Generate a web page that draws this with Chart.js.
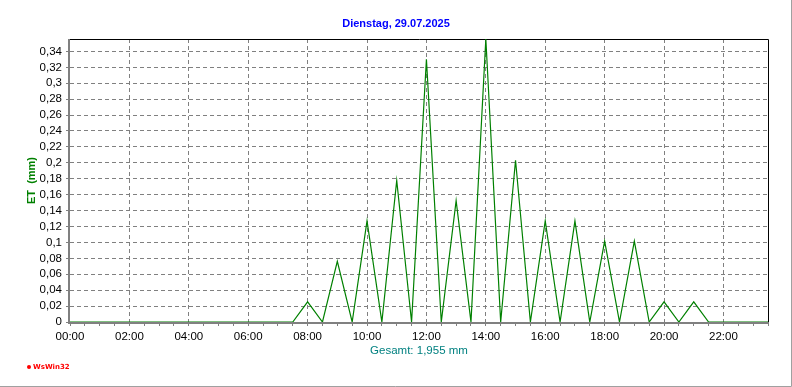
<!DOCTYPE html>
<html>
<head>
<meta charset="utf-8">
<script src="https://cdn.jsdelivr.net/npm/chart.js@4"></script>
<style>
  body { margin: 0; background: #fff; }
  #wrap { width: 792px; height: 387px; position: relative; }
</style>
</head>
<body>
<div id="wrap"><canvas id="etChart"></canvas></div>
<script>
// half-hourly times of the day
const times = [
  '00:00','00:30','01:00','01:30','02:00','02:30','03:00','03:30',
  '04:00','04:30','05:00','05:30','06:00','06:30','07:00','07:30',
  '08:00','08:30','09:00','09:30','10:00','10:30','11:00','11:30',
  '12:00','12:30','13:00','13:30','14:00','14:30','15:00','15:30',
  '16:00','16:30','17:00','17:30','18:00','18:30','19:00','19:30',
  '20:00','20:30','21:00','21:30','22:00','22:30','23:00','23:30'
];

// ET in mm per half hour
const etValues = [
  0, 0, 0, 0, 0, 0, 0, 0,
  0, 0, 0, 0, 0, 0, 0, 0,
  0.0254, 0, 0.0762, 0, 0.127, 0, 0.1778, 0,
  0.3302, 0, 0.1524, 0, 0.3556, 0, 0.2032, 0,
  0.127, 0, 0.127, 0, 0.1016, 0, 0.1016, 0,
  0.0254, 0, 0.0254, 0, 0, 0, 0, 0
];

const titleText  = 'Dienstag, 29.07.2025';
const yTitleText = 'ET  (mm)';
const xTitleText = 'Gesamt: 1,955 mm';
const yMax  = 0.3556;
const yStep = 0.02;

Chart.defaults.font.family = '"Liberation Sans", Arial, sans-serif';
Chart.defaults.font.size = 11.5;
Chart.defaults.color = '#000';

// frame, axes and the texts around the plot
const framePlugin = {
  id: 'frame',
  beforeDatasetsDraw(chart) {
    const { ctx, chartArea: a } = chart;
    ctx.save();
    ctx.strokeStyle = '#808080';
    ctx.lineWidth = 2;
    ctx.beginPath();
    ctx.moveTo(69, a.top);
    ctx.lineTo(69, a.bottom + 1);
    ctx.lineTo(a.right, a.bottom + 1);
    ctx.stroke();
    ctx.strokeStyle = '#000';
    ctx.lineWidth = 1;
    ctx.beginPath();
    ctx.moveTo(a.left, a.top + 0.5);
    ctx.lineTo(a.right + 0.5, a.top + 0.5);
    ctx.lineTo(a.right + 0.5, a.bottom);
    ctx.stroke();
    ctx.restore();
  },
  afterDraw(chart) {
    const { ctx, chartArea: a, width, height } = chart;
    ctx.save();
    // window frame
    ctx.strokeStyle = '#a0a0a0';
    ctx.lineWidth = 1;
    ctx.beginPath();
    ctx.moveTo(width - 0.5, 0);
    ctx.lineTo(width - 0.5, height - 0.5);
    ctx.lineTo(0, height - 0.5);
    ctx.stroke();

    ctx.textAlign = 'center';
    ctx.textBaseline = 'middle';
    ctx.fillStyle = '#0000ff';
    ctx.font = 'bold 11px "Liberation Sans", Arial, sans-serif';
    ctx.fillText(titleText, width / 2, 24);

    ctx.fillStyle = '#008080';
    ctx.font = '11.5px "Liberation Sans", Arial, sans-serif';
    ctx.fillText(xTitleText, (a.left + a.right) / 2, 351);

    ctx.save();
    ctx.translate(32, (a.top + a.bottom) / 2);
    ctx.rotate(-Math.PI / 2);
    ctx.fillStyle = '#008000';
    ctx.font = 'bold 11px "Liberation Sans", Arial, sans-serif';
    ctx.fillText(yTitleText, 0, 0);
    ctx.restore();

    // WsWin32 mark
    ctx.fillStyle = '#ff0000';
    ctx.beginPath();
    ctx.arc(29, 367, 2, 0, Math.PI * 2);
    ctx.fill();
    ctx.textAlign = 'left';
    ctx.font = 'bold 7px "DejaVu Sans", sans-serif';
    ctx.fillText('WsWin32', 33, 367);
    ctx.restore();
  }
};

new Chart(document.getElementById('etChart'), {
  type: 'line',
  data: {
    labels: times,
    datasets: [{
      label: 'ET',
      data: etValues,
      borderColor: '#008000',
      borderWidth: 1.2,
      pointRadius: 0,
      tension: 0,
      fill: false
    }]
  },
  options: {
    responsive: true,
    maintainAspectRatio: false,
    animation: false,
    layout: { padding: { top: 39, right: 24, left: 0, bottom: 0 } },
    plugins: {
      legend: { display: false },
      title: { display: false },
      tooltip: { enabled: false }
    },
    scales: {
      x: {
        type: 'category',
        offset: false,
        afterFit: s => { s.height = 65; },
        grid: {
          color: c => (c.index % 4 === 0 && c.index > 0) ? '#808080' : 'transparent',
          tickColor: '#808080',
          tickLength: 4,
          offset: false
        },
        border: { display: false, dash: [4, 3] },
        ticks: {
          autoSkip: false,
          maxRotation: 0,
          padding: 4,
          color: '#000',
          callback: (v, i) => i % 4 === 0 ? times[i] : ''
        }
      },
      y: {
        min: 0,
        max: yMax,
        afterFit: s => { s.width = 70; },
        grid: {
          color: '#808080',
          tickColor: '#808080',
          tickLength: 4
        },
        border: { display: false, dash: [4, 3] },
        ticks: {
          stepSize: yStep,
          includeBounds: false,
          autoSkip: false,
          padding: 4,
          color: '#000',
          callback: v => String(Math.round(v * 100) / 100).replace('.', ',')
        }
      }
    }
  },
  plugins: [framePlugin]
});
</script>
</body>
</html>
